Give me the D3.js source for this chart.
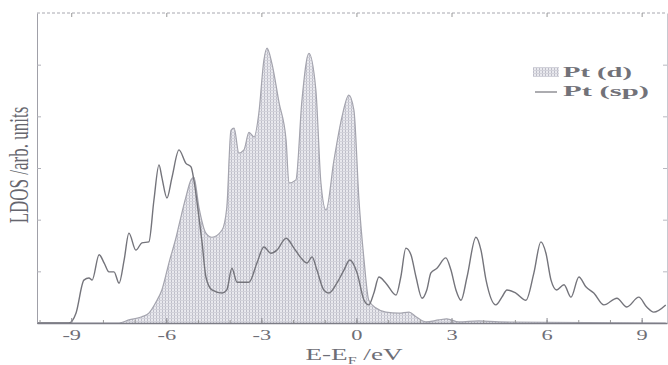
<!DOCTYPE html>
<html>
<head>
<meta charset="utf-8">
<script src="https://cdn.jsdelivr.net/npm/d3@7"></script>
<style>
  body { margin: 0; background: #fff; }
  svg { display: block; font-family: "Liberation Serif", "DejaVu Serif", serif; }
</style>
</head>
<body>
<div id="chart"></div>
<script>
// Pt(sp) LDOS (energy in eV, arb. units)
const spEnergy = [-10.08,-9.07,-8.85,-8.60,-8.44,-8.34,-8.12,-7.96,-7.81,-7.65,-7.49,
  -7.33,-7.18,-6.96,-6.77,-6.55,-6.39,-6.23,-6.14,-5.98,-5.82,
  -5.60,-5.38,-5.22,-5.13,-4.97,-4.87,-4.75,-4.56,-4.24,-4.09,
  -3.93,-3.77,-3.39,-3.14,-2.92,-2.70,-2.51,-2.22,-1.97,-1.75,
  -1.56,-1.40,-1.25,-1.03,-0.87,-0.62,-0.39,-0.21,0.02,0.24,
  0.39,0.55,0.71,0.93,1.25,1.40,1.56,1.72,1.88,2.07,
  2.22,2.35,2.54,2.82,2.98,3.14,3.30,3.49,3.77,3.93,
  4.09,4.40,4.59,4.75,5.03,5.35,5.60,5.82,5.98,6.14,
  6.32,6.55,6.77,7.02,7.24,7.49,7.81,8.22,8.53,8.91,
  9.16,9.38,9.76];
const spDos = [0,0,0.19,0.83,0.87,0.83,1.32,1.16,0.99,0.99,0.77,
  1.22,1.74,1.41,1.55,1.57,2.38,3.06,2.82,2.42,2.82,
  3.35,3.09,3.02,2.77,2.05,1.55,0.89,0.64,0.58,0.64,
  1.06,0.79,0.79,1.16,1.47,1.35,1.41,1.64,1.45,1.26,
  1.16,1.28,1.03,0.64,0.58,0.77,1.03,1.22,0.97,0.44,
  0.35,0.58,0.89,0.77,0.54,0.89,1.45,1.32,0.89,0.48,
  0.64,0.97,1.06,1.26,1.03,0.64,0.44,0.89,1.66,1.41,
  0.83,0.35,0.50,0.64,0.58,0.44,0.97,1.57,1.35,0.83,
  0.64,0.74,0.50,0.89,0.70,0.58,0.35,0.48,0.31,0.50,
  0.31,0.21,0.35];

// Pt(d) LDOS (shaded)
const dEnergy = [-10.08,-7.49,-7.18,-6.77,-6.55,-6.32,-6.14,-5.91,-5.69,-5.54,
  -5.38,-5.22,-5.13,-4.97,-4.75,-4.56,-4.24,-4.09,-3.96,-3.86,
  -3.71,-3.55,-3.39,-3.23,-3.08,-2.92,-2.82,-2.67,-2.44,-2.22,
  -2.13,-1.91,-1.72,-1.50,-1.28,-1.12,-0.96,-0.71,-0.46,-0.24,
  -0.08,0.08,0.24,0.39,0.62,0.93,1.34,1.66,1.88,2.19,
  2.60,2.85,3.23,3.86,4.50,9.76];
const dDos = [0,0,0.06,0.12,0.19,0.41,0.64,1.18,1.66,2.05,
  2.44,2.77,2.82,2.24,1.74,1.66,1.80,2.24,3.73,3.77,
  3.29,3.35,3.69,3.60,4.06,5.09,5.32,5.03,4.26,3.54,
  2.71,2.77,4.31,5.22,4.51,2.71,2.19,3.15,3.98,4.41,
  4.12,2.38,1.22,0.44,0.29,0.21,0.19,0.21,0.12,0.02,
  0.06,0.08,0.02,0.04,0.02,0];

const xTicks = [-9, -6, -3, 0, 3, 6, 9];
const yTicks = [1, 2, 3, 4, 5];
const legendLabels = ["Pt (d)", "Pt (sp)"];
const xLabel = { main: "E-E", sub: "F", rest: " /eV" };
const yLabel = "LDOS /arb. units";

const width = 668, height = 365;
const margin = { top: 13, right: 1, bottom: 42, left: 37 };
const stretch = 1.6; // the scan is wider than it is tall

const svg = d3.select("#chart").append("svg")
  .attr("width", width)
  .attr("height", height);

// fine grid hatch for the d band
const pat = svg.append("defs").append("pattern")
  .attr("id", "hatch")
  .attr("width", 3).attr("height", 3)
  .attr("patternUnits", "userSpaceOnUse");
pat.append("rect").attr("width", 3).attr("height", 3).attr("fill", "#e9e9ee");
pat.append("line").attr("x1", 0.5).attr("x2", 0.5).attr("y1", 0).attr("y2", 3)
  .attr("stroke", "#bdbdc8").attr("stroke-width", 1);
pat.append("line").attr("x1", 0).attr("x2", 3).attr("y1", 0.5).attr("y2", 0.5)
  .attr("stroke", "#d2d2da").attr("stroke-width", 1);

const x = d3.scaleLinear().domain([-10.08, 9.8]).range([margin.left, width - margin.right]);
const y = d3.scaleLinear().domain([0, 6]).range([height - margin.bottom, margin.top]);

const dData = d3.zip(dEnergy, dDos);
const spData = d3.zip(spEnergy, spDos);

// shaded d states
svg.append("path")
  .datum(dData)
  .attr("fill", "url(#hatch)")
  .attr("d", d3.area()
    .x(d => x(d[0]))
    .y0(y(0))
    .y1(d => y(d[1]))
    .curve(d3.curveMonotoneX));

svg.append("path")
  .datum(dData)
  .attr("fill", "none")
  .attr("stroke", "#a4a4ae")
  .attr("stroke-width", 1.2)
  .attr("d", d3.line().x(d => x(d[0])).y(d => y(d[1])).curve(d3.curveMonotoneX));

// sp line
svg.append("path")
  .datum(spData)
  .attr("fill", "none")
  .attr("stroke", "#74747b")
  .attr("stroke-width", 1.4)
  .attr("d", d3.line().x(d => x(d[0])).y(d => y(d[1])).curve(d3.curveMonotoneX));

// frame: top (dotted look), right, left
svg.append("line")
  .attr("x1", x.range()[0]).attr("x2", x.range()[1])
  .attr("y1", y(6)).attr("y2", y(6))
  .attr("stroke", "#a8a8b0").attr("stroke-dasharray", "3,2");

const topAxis = svg.append("g")
  .attr("transform", `translate(0,${y(6)})`)
  .call(d3.axisTop(x).tickValues(xTicks).tickSize(-4).tickFormat(""));
topAxis.select(".domain").remove();
topAxis.selectAll("line").attr("stroke", "#999");

const leftAxis = svg.append("g")
  .attr("transform", `translate(${x.range()[0]},0)`)
  .call(d3.axisLeft(y).tickValues(yTicks).tickSize(-4).tickFormat("").tickSizeOuter(0));
leftAxis.select(".domain").attr("stroke", "#a0a0a8");
leftAxis.selectAll("line").attr("stroke", "#b0b0b8");

const rightAxis = svg.append("g")
  .attr("transform", `translate(${x.range()[1]},0)`)
  .call(d3.axisRight(y).tickValues(yTicks).tickSize(-4).tickFormat("").tickSizeOuter(0));
rightAxis.select(".domain").attr("stroke", "#c8c8d0");
rightAxis.selectAll("line").attr("stroke", "#b8b8c0");

// bottom: minor ticks every eV, majors labelled
const minor = svg.append("g")
  .attr("transform", `translate(0,${y(0)})`)
  .call(d3.axisBottom(x).tickValues(d3.range(-10, 10, 1)).tickSize(-3).tickFormat("").tickSizeOuter(0));
minor.select(".domain").remove();
minor.selectAll("line").attr("stroke", "#999");

const bottomAxis = svg.append("g")
  .attr("transform", `translate(0,${y(0)})`)
  .call(d3.axisBottom(x).tickValues(xTicks).tickSize(-5).tickPadding(7).tickSizeOuter(0)
    .tickFormat(d => d3.format("d")(d).replace("\u2212", "-")));
bottomAxis.select(".domain").attr("stroke", "#7d7d86").attr("stroke-width", 1.5);
bottomAxis.selectAll("line").attr("stroke", "#8a8a92");
bottomAxis.selectAll("text")
  .attr("fill", "#6e6e76")
  .style("font-family", "'Liberation Serif', serif")
  .style("font-size", "14px")
  .attr("transform", `scale(${stretch},1)`);

// axis titles
const xt = svg.append("text")
  .attr("transform", `translate(354,360) scale(${stretch},1)`)
  .attr("text-anchor", "middle")
  .attr("fill", "#6e6e76")
  .style("font-size", "17px");
xt.append("tspan").text(xLabel.main);
xt.append("tspan").attr("dy", 4).style("font-size", "10px").text(xLabel.sub);
xt.append("tspan").attr("dy", -4).text(xLabel.rest);

svg.append("text")
  .attr("transform", `translate(28,165) rotate(-90) scale(1,${stretch})`)
  .attr("text-anchor", "middle")
  .attr("fill", "#66666e")
  .style("font-size", "17px")
  .text(yLabel);

// legend
const legend = svg.append("g").attr("transform", "translate(533,67)");
legend.append("rect")
  .attr("width", 26).attr("height", 10)
  .attr("fill", "url(#hatch)");
legend.append("line")
  .attr("x1", 2).attr("x2", 24).attr("y1", 25).attr("y2", 25)
  .attr("stroke", "#74747b").attr("stroke-width", 1.2);

legend.selectAll("text.leg")
  .data(legendLabels)
  .enter().append("text")
  .attr("class", "leg")
  .attr("x", 30)
  .attr("y", (d, i) => 10 + i * 19)
  .attr("fill", "#727279")
  .style("font-size", "15px")
  .style("font-weight", "bold")
  .attr("textLength", (d, i) => i === 0 ? 69 : 86)
  .attr("lengthAdjust", "spacingAndGlyphs")
  .text(d => d);
</script>
</body>
</html>
